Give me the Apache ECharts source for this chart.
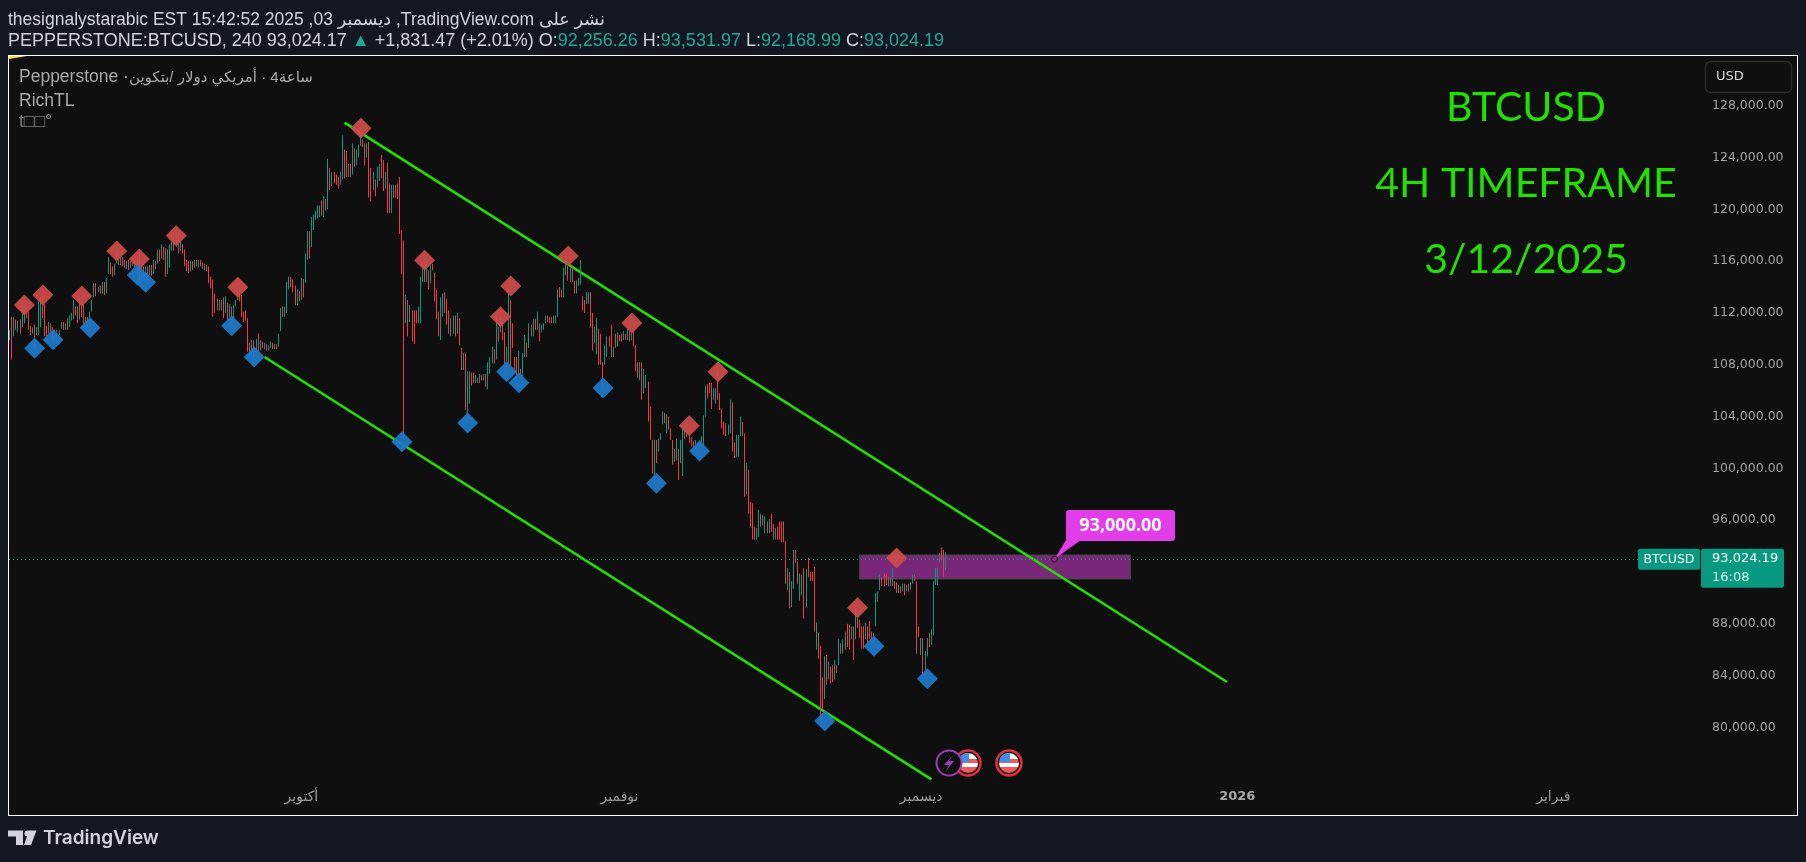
<!DOCTYPE html>
<html>
<head>
<meta charset="utf-8">
<script src="https://cdn.jsdelivr.net/npm/echarts@6/dist/echarts.min.js"></script>
<style>
    html, body { margin: 0; padding: 0; background: #131722; }
    #pane { position: absolute; left: 8px; top: 55px; width: 1788px; height: 759px; background: #0f0f0f; border: 1px solid #fff; }
    #chart { position: absolute; left: 0; top: 0; width: 1806px; height: 862px; }
</style>
</head>
<body>
<div id="pane"></div>
<div id="chart"></div>
<script>
// [open, close, low, high] in thousands of USD, one row per 4h bar
const candles = [
[110.2,110.6,109.9,110.7],[110.6,109.0,108.4,111.7],[110.4,111.3,110.2,111.7],[111.3,110.9,110.7,111.5],[110.9,111.3,110.5,111.4],
[111.3,110.9,110.4,111.5],[110.9,112.0,110.9,112.5],[112.0,112.3,111.2,112.5],[112.3,112.0,111.6,112.4],[112.0,110.9,110.7,112.1],
[110.9,110.5,110.3,111.0],[110.5,110.8,110.4,110.9],[110.8,109.7,109.3,111.1],[110.4,110.8,110.3,110.9],[110.8,112.4,110.3,112.9],
[112.4,113.0,110.9,113.3],[113.0,112.0,111.6,113.1],[112.7,110.8,110.2,112.7],[110.8,110.4,110.2,111.0],[110.4,111.1,110.4,111.3],
[111.1,110.7,110.2,111.2],[110.7,110.2,109.9,110.9],[110.2,110.6,110.0,110.7],[110.6,110.2,110.1,110.7],[110.3,110.7,110.3,110.7],
[110.8,111.2,110.8,111.3],[111.2,110.9,110.7,111.3],[110.9,111.1,110.7,111.2],[111.1,110.9,110.7,111.6],[110.9,111.5,110.9,111.8],
[111.5,111.9,111.4,112.0],[111.9,112.8,111.5,113.0],[112.5,112.0,111.8,112.5],[112.2,111.5,111.2,112.5],[111.5,112.9,111.5,113.3],
[112.9,112.2,111.7,113.0],[112.7,110.9,110.7,112.7],[111.0,111.5,110.9,111.7],[111.5,111.1,110.9,111.7],[111.1,111.8,111.1,112.1],
[112.1,112.9,112.1,113.0],[113.2,114.2,113.2,114.3],[114.2,113.5,113.3,114.3],[113.7,114.0,113.6,114.0],[114.0,113.6,113.5,114.1],
[113.6,114.3,113.5,114.4],[114.3,113.7,113.4,114.4],[113.7,114.6,113.5,114.7],[115.1,116.0,115.0,116.3],[115.9,115.3,115.0,115.9],
[115.3,115.0,114.8,115.6],[115.0,115.6,114.9,115.8],[115.8,116.5,115.8,116.7],[116.4,115.9,115.7,116.5],[115.9,116.2,115.7,116.3],
[116.2,115.9,115.6,116.3],[115.9,115.7,115.5,116.1],[115.7,116.0,115.4,116.0],[116.0,115.6,115.3,116.1],[115.6,115.9,115.5,116.0],
[115.9,115.7,115.6,116.1],[115.7,116.0,115.5,116.1],[116.0,115.4,114.9,116.2],[115.6,115.0,114.6,116.9],[115.0,115.5,114.6,115.7],
[115.5,114.9,114.6,115.6],[114.9,115.4,114.6,115.6],[115.4,115.0,114.8,115.6],[115.0,115.6,114.9,115.7],[115.6,115.1,114.9,115.7],
[115.1,115.9,115.0,116.1],[115.9,115.6,115.4,116.0],[115.9,116.7,115.8,116.9],[116.7,116.3,116.0,116.9],[116.3,117.0,116.2,117.3],
[117.0,116.6,116.1,117.1],[116.6,115.2,114.8,117.0],[115.2,116.0,115.0,116.9],[116.0,116.9,115.5,117.3],[116.9,118.0,116.8,118.0],
[117.9,117.2,116.8,118.0],[117.2,117.9,117.1,118.2],[117.9,117.1,116.6,118.0],[117.1,117.4,116.8,117.7],[117.3,116.9,116.6,117.3],
[116.8,116.0,115.6,116.9],[116.0,115.5,115.2,116.1],[115.5,115.2,115.1,116.0],[115.3,115.9,115.2,116.0],[115.9,115.6,115.3,116.0],
[115.6,116.0,115.5,116.1],[116.0,115.7,115.6,116.1],[115.7,115.9,115.5,116.1],[115.9,115.7,115.6,116.1],[115.7,115.5,115.4,115.9],
[115.5,115.6,115.3,115.8],[115.6,115.3,115.2,115.7],[115.6,114.7,114.3,115.6],[114.7,114.4,113.9,114.8],[114.4,112.2,111.7,114.6],
[113.1,112.4,112.0,113.5],[112.4,113.0,112.2,113.1],[113.0,112.5,112.2,113.0],[112.5,112.9,112.2,113.0],[112.9,112.1,111.6,113.2],
[112.1,112.7,112.0,113.3],[112.7,112.0,111.4,112.8],[112.0,112.6,111.7,112.7],[112.4,111.0,110.9,112.5],[111.4,112.5,111.3,112.6],
[112.5,113.0,112.5,113.0],[113.0,113.9,113.0,114.0],[113.7,113.2,112.9,113.8],[113.3,111.9,111.7,113.4],[112.0,111.6,111.3,112.1],
[112.1,111.5,111.4,112.2],[111.5,110.0,109.0,111.6],[109.5,108.9,108.7,109.7],[108.9,109.2,108.7,109.9],[109.2,108.8,108.6,109.9],
[108.8,109.7,108.7,110.0],[109.7,109.2,109.0,110.4],[109.2,109.6,109.1,109.9],[109.6,109.3,109.3,109.8],[109.3,109.6,109.2,109.7],
[109.5,109.2,109.1,109.6],[109.2,109.4,109.1,109.5],[109.4,109.6,109.3,109.8],[109.6,109.4,109.2,109.7],[109.4,109.5,109.2,109.6],
[109.5,109.3,109.2,109.6],[109.5,110.2,109.4,110.4],[110.6,112.0,110.6,112.4],[112.0,111.9,111.7,112.5],[111.9,112.3,111.7,112.5],
[112.0,113.9,112.0,114.4],[113.9,114.6,113.8,114.8],[114.6,114.2,114.0,114.8],[114.2,113.9,113.6,114.6],[114.1,112.8,112.6,114.1],
[112.8,113.3,112.6,113.8],[113.3,112.9,112.9,113.7],[113.2,114.6,113.0,114.7],[114.4,113.4,113.2,114.6],[114.3,115.9,114.3,116.6],
[116.2,117.2,116.1,118.3],[117.0,116.6,116.2,118.3],[117.1,118.6,117.1,119.4],[118.6,119.2,118.4,119.6],[119.2,119.3,119.2,119.9],
[119.3,119.6,119.3,120.3],[119.6,120.1,119.4,120.3],[120.0,119.7,119.5,120.7],[119.7,120.2,119.4,121.0],[120.2,120.0,119.9,120.8],
[120.0,123.6,120.0,123.9],[123.2,121.9,121.5,123.2],[122.0,122.6,121.8,122.9],[122.6,122.3,122.0,122.9],[122.4,122.0,121.9,122.7],
[122.4,121.8,121.6,122.5],[122.0,122.4,121.9,122.9],[122.5,125.2,122.3,125.7],[124.3,123.0,122.4,124.6],[123.0,122.7,122.5,124.5],
[122.7,123.2,122.5,123.5],[123.2,122.8,122.5,123.5],[122.8,124.6,122.7,125.1],[124.6,123.8,123.3,124.7],[123.8,124.3,123.4,124.6],
[124.2,124.8,124.0,125.0],[125.0,125.5,124.9,126.2],[125.3,124.9,124.8,125.4],[125.0,124.2,123.4,125.1],[124.2,124.8,124.0,125.1],
[124.9,122.0,120.9,125.2],[122.0,121.5,120.6,123.2],[121.5,122.6,121.5,122.9],[122.2,121.6,121.0,122.3],[121.8,122.9,121.7,123.3],
[122.9,123.3,122.2,123.5],[123.7,122.7,122.4,124.2],[123.4,121.8,121.4,123.8],[121.8,122.4,121.6,122.9],[122.6,121.6,119.7,123.6],
[121.6,120.8,119.7,122.0],[120.2,121.3,119.7,121.9],[121.4,121.8,120.9,121.9],[121.8,121.2,120.9,121.9],[121.2,120.9,120.8,122.0],
[122.0,118.2,118.1,122.5],[118.2,115.4,115.0,118.4],[115.4,111.5,102.2,117.6],[111.5,113.1,111.2,113.4],[112.9,111.2,110.2,113.0],
[111.4,112.2,111.3,112.6],[112.0,110.2,109.8,112.2],[112.2,110.0,109.6,112.2],[112.2,111.5,111.2,112.2],[111.4,112.3,111.2,112.5],
[112.2,114.0,111.2,114.8],[114.4,115.6,114.4,116.0],[115.6,114.8,114.4,116.0],[114.8,115.3,114.4,115.8],[115.3,114.6,113.8,115.3],
[114.6,115.6,114.3,115.8],[115.6,115.3,115.3,115.8],[115.0,113.0,112.9,115.1],[113.7,112.2,111.5,113.8],[112.1,111.4,110.2,112.1],
[111.4,112.6,109.9,113.2],[112.4,112.9,111.7,113.5],[113.4,112.3,112.0,113.6],[113.0,112.0,111.1,113.1],[112.2,111.0,110.4,112.2],
[110.9,111.2,110.2,111.6],[111.2,111.6,110.4,111.8],[111.6,111.0,110.2,111.8],[110.9,111.7,110.4,112.0],[111.6,110.0,109.5,111.6],
[109.3,108.0,107.6,109.3],[108.0,108.6,107.6,108.9],[108.6,105.0,104.5,108.9],[104.7,106.5,103.5,107.5],[106.5,107.0,105.0,107.5],
[107.0,106.9,106.4,107.4],[107.2,106.8,106.6,107.4],[106.8,107.0,106.6,107.2],[107.0,106.8,106.6,107.0],[106.8,107.1,106.6,107.3],
[107.1,106.9,106.8,107.2],[106.9,107.1,106.8,107.3],[107.1,106.5,106.3,107.3],[106.3,107.5,106.1,108.2],[107.5,108.4,107.3,108.6],
[108.2,109.0,108.1,109.4],[109.0,108.4,108.1,109.2],[108.6,110.9,108.4,111.7],[110.9,110.4,109.8,110.9],[110.7,111.2,110.5,111.7],
[111.2,110.2,109.9,111.2],[110.4,108.0,107.5,110.5],[108.0,108.8,107.5,109.4],[108.0,113.0,107.7,114.0],[113.0,108.5,107.9,113.0],
[110.9,109.5,109.3,111.2],[108.5,108.0,107.6,108.6],[108.5,107.4,106.7,108.6],[107.4,108.7,107.1,109.1],[107.7,107.4,107.1,107.7],
[107.4,108.6,107.1,108.9],[108.6,110.0,108.6,110.3],[109.6,109.2,108.6,109.7],[109.4,110.9,109.3,111.2],[110.9,110.6,110.2,111.1],
[110.5,111.1,110.2,111.5],[111.4,111.1,110.7,111.5],[111.0,112.0,110.7,112.1],[111.0,110.4,109.8,111.2],[110.5,110.9,110.5,111.1],
[110.9,111.2,110.7,111.2],[111.2,111.6,111.2,111.8],[111.6,111.5,111.3,111.8],[111.6,111.2,111.2,111.7],[111.2,111.5,111.2,111.7],
[111.7,111.3,111.2,111.8],[111.3,111.6,111.2,111.8],[111.7,113.4,111.7,113.8],[113.8,113.3,113.2,114.0],[113.6,113.3,113.2,113.8],
[113.3,115.0,113.2,115.5],[115.0,115.9,114.9,116.3],[115.5,115.0,114.5,115.6],[115.0,115.2,114.4,115.5],[115.3,114.6,114.4,115.6],
[114.4,113.7,113.5,114.5],[113.7,114.3,113.5,114.5],[114.1,114.5,114.1,114.7],[114.5,115.2,114.2,116.1],[113.2,112.5,112.2,113.3],
[112.5,112.0,112.0,113.0],[112.8,113.5,112.7,113.6],[112.8,113.4,112.7,113.6],[113.5,111.2,110.9,113.6],[111.8,110.0,109.1,112.0],
[110.0,110.9,109.7,110.9],[109.3,111.2,108.8,111.6],[110.7,108.4,108.0,110.8],[109.0,108.0,108.0,110.4],[108.2,106.6,106.3,108.2],
[108.0,109.2,108.0,109.5],[108.9,109.8,108.6,110.2],[110.0,109.5,109.4,110.2],[110.4,109.0,108.6,111.1],[109.0,109.2,108.6,109.4],
[110.2,109.5,109.3,110.4],[109.5,110.3,109.4,110.5],[110.2,109.9,109.8,110.3],[110.3,109.9,109.8,110.4],[109.9,110.4,109.9,110.6],
[110.4,110.1,109.9,110.4],[110.0,110.8,109.9,110.9],[110.7,110.2,109.8,110.7],[110.2,110.5,109.9,110.6],[110.6,109.6,109.4,110.7],
[109.4,107.6,107.5,109.5],[108.2,107.2,107.0,108.2],[107.2,107.9,106.8,108.2],[108.0,105.5,105.3,108.2],[106.0,107.2,105.8,107.7],
[106.5,107.0,106.2,107.2],[106.6,104.0,103.6,106.7],[104.2,103.0,102.2,104.8],[102.2,99.8,99.6,102.2],[99.8,101.4,98.9,102.2],
[101.9,100.4,100.4,102.2],[101.5,102.2,101.3,102.3],[102.2,102.6,102.2,102.7],[103.5,104.2,103.4,104.4],[104.2,103.9,103.5,104.3],
[103.4,104.1,102.7,104.2],[103.8,103.2,103.0,104.0],[103.0,102.6,102.2,103.1],[102.1,100.4,100.3,102.2],[100.6,101.3,100.5,101.5],
[101.0,102.2,100.6,102.3],[101.5,99.5,99.1,101.5],[100.5,102.0,100.4,102.2],[101.0,103.0,99.4,103.1],[103.0,102.5,102.3,103.1],
[102.5,103.2,102.4,103.7],[102.6,102.2,102.0,102.6],[102.2,101.9,101.7,102.4],[102.0,101.5,101.4,102.1],[101.5,102.0,101.4,102.2],
[101.9,101.6,101.4,102.0],[101.6,102.0,101.5,102.2],[102.0,102.4,101.7,102.5],[102.0,103.9,101.7,104.1],[104.0,106.0,104.0,106.4],
[106.3,105.6,105.4,106.5],[106.4,105.9,105.8,106.6],[106.5,105.2,104.6,106.6],[105.5,105.9,105.3,106.2],[105.7,106.0,105.0,106.2],
[106.0,105.4,105.3,107.5],[105.6,104.9,104.5,105.8],[104.6,103.4,103.1,104.6],[103.6,103.1,102.6,103.6],[103.3,102.6,102.5,103.5],
[102.7,103.2,102.6,103.4],[103.0,105.2,102.7,105.3],[105.1,102.0,101.3,105.1],[102.0,101.2,100.8,102.0],[101.2,102.3,100.9,102.6],
[101.5,102.2,100.9,102.6],[102.5,103.6,102.5,104.0],[103.6,102.9,102.5,103.6],[102.5,100.5,97.8,102.7],[98.0,99.5,98.0,100.4],
[99.5,97.8,96.5,99.9],[97.4,96.0,95.5,97.4],[97.3,94.6,94.5,97.3],[95.5,94.9,94.5,95.5],[94.5,95.0,94.5,95.4],
[95.0,96.4,94.7,96.8],[96.4,95.6,95.5,96.5],[95.6,96.2,95.6,96.4],[95.3,95.9,95.0,96.3],[95.9,95.2,95.0,95.9],
[95.2,96.0,95.0,96.1],[96.2,95.5,95.1,96.5],[95.5,95.0,94.5,95.7],[94.7,95.2,94.5,95.4],[95.2,94.8,94.5,95.5],
[95.6,94.9,94.5,95.9],[95.9,94.6,94.3,95.9],[95.8,94.6,94.3,95.9],[94.4,91.4,91.1,94.4],[91.0,92.0,90.6,92.3],
[92.0,89.6,89.2,92.0],[90.0,91.0,89.3,91.3],[90.9,93.2,90.7,93.7],[93.6,92.9,92.7,93.7],[92.8,91.5,91.1,92.8],
[90.0,91.7,89.8,91.9],[90.5,91.5,90.2,91.8],[92.0,89.4,88.4,92.3],[90.0,92.0,89.3,92.2],[93.0,92.5,91.6,93.1],
[92.0,91.5,91.3,92.0],[92.0,91.6,91.3,92.0],[92.4,88.0,87.4,92.4],[87.8,88.0,86.0,88.1],[87.3,86.0,85.3,87.3],
[86.2,82.0,80.4,86.3],[83.9,81.5,81.4,83.9],[82.3,84.9,82.2,85.5],[85.5,84.0,83.3,85.6],[83.8,84.5,83.7,85.1],
[84.7,83.5,83.4,84.7],[84.8,83.7,83.5,84.8],[83.9,84.7,83.7,85.2],[84.7,84.2,84.2,84.8],[84.8,86.2,84.8,86.8],
[86.2,85.8,85.7,86.5],[85.8,86.6,85.7,86.8],[86.4,87.0,86.0,87.4],[88.0,86.5,86.2,88.0],[87.6,86.8,86.0,87.9],
[87.0,87.5,86.8,87.8],[87.5,85.7,85.2,87.8],[86.9,88.5,86.8,89.2],[88.5,87.9,87.7,88.7],[88.2,87.3,86.9,88.3],
[87.8,86.2,86.1,87.8],[87.3,86.5,86.1,87.8],[87.0,87.9,86.8,88.1],[87.5,86.8,86.5,87.8],[88.0,87.0,86.8,88.2],
[87.3,86.5,86.4,87.4],[86.5,87.1,86.4,87.3],[87.9,89.9,87.8,90.4],[89.9,90.2,89.7,90.5],[90.8,91.6,90.6,91.8],
[91.4,91.0,90.9,91.6],[91.8,91.1,90.9,91.9],[91.5,91.3,91.0,91.8],[91.0,91.3,90.9,91.6],[91.4,91.0,90.9,91.6],
[91.0,91.4,90.9,92.3],[91.2,90.9,90.7,91.3],[91.1,90.6,90.4,91.2],[90.5,90.9,90.4,91.0],[90.8,90.5,90.4,90.9],
[90.5,90.9,90.5,91.1],[90.9,90.6,90.2,91.1],[90.6,90.9,90.5,91.0],[91.0,90.6,90.5,91.1],[90.6,91.2,90.6,91.2],
[91.2,91.5,91.1,91.8],[91.8,91.4,91.3,91.8],[91.3,87.7,85.7,91.3],[87.7,87.0,87.0,87.8],[85.8,86.6,85.6,86.9],
[86.8,84.9,83.8,86.9],[84.4,85.5,83.8,85.9],[85.6,86.3,85.5,86.9],[87.1,86.5,86.2,87.3],[86.5,87.3,86.4,87.6],
[87.3,90.5,87.1,91.3],[91.0,91.3,91.0,92.3],[91.3,92.0,91.0,92.3],[92.7,93.4,92.7,93.5],[93.9,93.3,92.9,93.9],
[93.6,92.0,91.6,93.7],[92.25626,93.02419,92.16899,93.53197]
]

// swing markers as [bar index, price]
const swingHighs = [[7,112616],[16,113388],[35,113311],[52,116784],[63,116167],[81,117968],[111,113980],[171,126253],[202,116064],[239,111716],[244,114083],[272,116398],[303,111227],[331,103302],[345,107470],[413,89249],[432,93083]]
const swingLows = [[12,109271],[21,109940],[39,110866],[62,114932],[66,114366],[108,111021],[119,108602],[191,102067],[223,103508],[242,107470],[248,106621],[289,106209],[315,98850],[336,101346],[397,80501],[421,86265],[447,83769]]

// channel lines and the resistance zone, [bar index, price]
const channelUpper = [[163,126688],[593,83510]]
const channelLower = [[124,108600],[449,76000]]
const zoneStart = [414,93314]
const zoneEnd = [546,91461]
const lastPrice = 93024.19
const calloutPoint = [509,93000]

const barCount = 824
const categories = Array.from({ length: barCount }, (_, i) => String(i))
// time axis labels by bar index
const monthTicks = { 142: 'أكتوبر', 297: 'نوفمبر', 444: 'ديسمبر', 598: '{b|2026}', 752: 'فبراير' }

const GREEN = '#22e000'
const UP = '#089981'
const DOWN = '#f23645'
const UI_FONT = '"Liberation Sans","DejaVu Sans",sans-serif'
const AXIS_FONT = '"DejaVu Sans",sans-serif'

const chart = echarts.init(document.getElementById('chart'))

function txt(x, y, text, fontSize, fill, extra) {
    return {
        type: 'text', x, y, z: 100, silent: true,
        style: Object.assign({ text, fill, font: fontSize + 'px ' + UI_FONT, textVerticalAlign: 'middle' }, extra || {}),
    }
}

/** 美国事件图标 */
function flagIcon(x, y) {
    return {
        type: 'group', x, y, z: 100, silent: true,
        children: [
            { type: 'circle', shape: { r: 12.5 }, style: { fill: '#111', stroke: '#e23040', lineWidth: 2.5 } },
            {
                type: 'circle', shape: { r: 10 },
                style: {
                    fill: new echarts.graphic.LinearGradient(0, 0, 0, 1, [
                        { offset: 0, color: '#fff' }, { offset: 0.3, color: '#fff' },
                        { offset: 0.3, color: '#f05a5a' }, { offset: 0.52, color: '#f05a5a' },
                        { offset: 0.52, color: '#fff' }, { offset: 0.72, color: '#fff' },
                        { offset: 0.72, color: '#f05a5a' }, { offset: 1, color: '#f05a5a' },
                    ]),
                },
            },
            { type: 'polygon', shape: { points: [[-10, -1], [-9, -5], [-7, -7.5], [-3.5, -9.5], [1, -10], [1, -1]] }, style: { fill: '#3f8fe8' } },
        ],
    }
}

const option = {
    animation: false,
    backgroundColor: 'transparent',
    grid: { left: 9, top: 53.9, width: 1691, height: 725.4, containLabel: false },
    xAxis: {
        type: 'category',
        data: categories,
        boundaryGap: true,
        axisLine: { show: false },
        axisTick: { show: false },
        splitLine: { show: false },
        axisLabel: {
            interval: (i) => monthTicks[i] !== undefined,
            formatter: (v, i) => monthTicks[i] || '',
            color: '#9c9c9c',
            fontSize: 14,
            fontFamily: AXIS_FONT,
            margin: 11,
            hideOverlap: false,
            rich: { b: { fontWeight: 'bold', color: '#a8a8a8', fontSize: 13, fontFamily: AXIS_FONT } },
        },
    },
    yAxis: {
        type: 'value',
        position: 'right',
        min: 76000,
        max: 132000,
        interval: 4000,
        scale: true,
        axisLine: { show: false },
        axisTick: { show: false },
        splitLine: { show: false },
        axisLabel: {
            showMinLabel: false,
            showMaxLabel: false,
            margin: 12,
            color: '#a2a2a2',
            fontSize: 12.5,
            fontFamily: AXIS_FONT,
            formatter: (v) => v.toLocaleString('en-US', { minimumFractionDigits: 2 }),
        },
    },
    series: [
        {
            name: 'channel upper', type: 'line', data: channelUpper, z: 1, symbol: 'none', silent: true,
            lineStyle: { color: GREEN, width: 2.6 },
        },
        {
            name: 'channel lower', type: 'line', data: channelLower, z: 1, symbol: 'none', silent: true,
            lineStyle: { color: GREEN, width: 2.6 },
        },
        {
            name: 'zone', type: 'line', data: [], z: 2, silent: true,
            markArea: {
                silent: true,
                itemStyle: { color: 'rgba(140,45,140,0.85)', borderColor: '#3c4a3c', borderWidth: 1 },
                data: [[{ coord: zoneStart }, { coord: zoneEnd }]],
            },
        },
        {
            name: 'BTCUSD', type: 'candlestick', z: 3, silent: true,
            data: candles.map((row) => row.map((v) => v * 1000)),
            barWidth: 1,
            itemStyle: { color: UP, color0: DOWN, borderColor: UP, borderColor0: DOWN, borderWidth: 1 },
            markLine: {
                silent: true,
                symbol: 'none',
                label: { show: false },
                lineStyle: { color: UP, type: [1, 3], width: 1 },
                data: [{ yAxis: lastPrice }],
            },
        },
        {
            name: 'swing highs', type: 'scatter', data: swingHighs, z: 5, symbol: 'diamond', symbolSize: 21, silent: true,
            itemStyle: { color: '#d04a4a', opacity: 0.93 },
        },
        {
            name: 'swing lows', type: 'scatter', data: swingLows, z: 5, symbol: 'diamond', symbolSize: 21, silent: true,
            itemStyle: { color: '#1f78c8', opacity: 0.95 },
        },
    ],
}
chart.setOption(option)

// 价格提示框跟随坐标
const tip = chart.convertToPixel({ gridIndex: 0 }, calloutPoint)
const lastY = chart.convertToPixel({ yAxisIndex: 0 }, lastPrice)

chart.setOption({
    graphic: {
        elements: [
            txt(8, 20, 'thesignalystarabic EST 15:42:52 2025 ,03 ديسمبر ,TradingView.com نشر على', 17.5, '#d1d4dc'),
            {
                type: 'text', x: 8, y: 41, z: 100, silent: true,
                style: {
                    text: 'PEPPERSTONE:BTCUSD, 240 93,024.17 {t|▲} +1,831.47 (+2.01%) O:{t|92,256.26} H:{t|93,531.97} L:{t|92,168.99} C:{t|93,024.19}',
                    fill: '#d1d4dc', font: '18px ' + UI_FONT, textVerticalAlign: 'middle',
                    rich: { t: { fill: '#22ab94', font: '18px ' + UI_FONT } },
                },
            },
            { type: 'polygon', z: 100, silent: true, shape: { points: [[9, 56], [27, 56], [9, 59]] }, style: { fill: '#f5e53a' } },
            txt(19, 77.5, 'Pepperstone · ', 17.5, '#a9a9a9'),
            txt(129, 77.5, 'ساعة4 · أمريكي دولار /بتكوين', 15, '#a9a9a9'),
            txt(19, 101, 'RichTL', 17.5, '#a9a9a9'),
            txt(19, 122, 't□□°', 17.5, '#7c7c7c'),

            txt(1526, 108, 'BTCUSD', 41, GREEN, { font: '41px Lato', textAlign: 'center' }),
            txt(1526, 184, '4H TIMEFRAME', 41, GREEN, { font: '41px Lato', textAlign: 'center' }),
            txt(1526, 260, '3/12/2025', 41, GREEN, { font: '41px Lato', textAlign: 'center' }),

            { type: 'rect', z: 100, silent: true, shape: { x: 1705.5, y: 61.5, width: 86, height: 31, r: 5 }, style: { fill: '#0f0f0f', stroke: '#2c2c2c', lineWidth: 1.5 } },
            txt(1716, 77, 'USD', 13, '#d8d8d8', { font: '13px ' + AXIS_FONT }),

            // callout
            { type: 'polygon', z: 100, silent: true, shape: { points: [[tip[0], tip[1]], [1066, 540], [1081, 540]] }, style: { fill: '#e23de8' } },
            { type: 'rect', z: 100, silent: true, shape: { x: 1066, y: 510, width: 109, height: 31, r: 3 }, style: { fill: '#e23de8' } },
            txt(1120.5, 525.5, '93,000.00', 18, '#fff', { font: 'bold 18px "Open Sans"', textAlign: 'center' }),
            { type: 'circle', z: 101, silent: true, shape: { cx: tip[0], cy: tip[1], r: 3 }, style: { fill: '#8c2d8c', stroke: '#1a1a1a', lineWidth: 1 } },

            // last price tags
            { type: 'rect', z: 100, silent: true, shape: { x: 1638, y: lastY - 10, width: 62, height: 21, r: 2 }, style: { fill: UP } },
            txt(1669, lastY + 0.5, 'BTCUSD', 12.5, '#fff', { font: '12.5px ' + AXIS_FONT, textAlign: 'center' }),
            { type: 'rect', z: 100, silent: true, shape: { x: 1701, y: lastY - 10, width: 83, height: 39, r: 2 }, style: { fill: UP } },
            txt(1712, lastY, '93,024.19', 13, '#fff', { font: '13px ' + AXIS_FONT }),
            txt(1712, lastY + 18.5, '16:08', 13, '#d6efe9', { font: '13px ' + AXIS_FONT }),

            // event icons
            { type: 'circle', z: 99, silent: true, shape: { cx: 949, cy: 763, r: 12.5 }, style: { fill: '#0f0f0f', stroke: '#9a3fb0', lineWidth: 2 } },
            { type: 'polygon', z: 99, silent: true, shape: { points: [[953, 755], [944, 765], [949, 765], [945, 772], [954, 761], [949, 761]] }, style: { fill: '#9a3fb0' } },
            flagIcon(968, 763),
            flagIcon(1009, 763),

            // logo
            { type: 'polygon', z: 100, silent: true, shape: { points: [[8, 830.5], [23, 830.5], [23, 845], [16, 845], [16, 836.5], [8, 836.5]] }, style: { fill: '#d1d4dc' } },
            { type: 'circle', z: 100, silent: true, shape: { cx: 27.5, cy: 833.5, r: 3 }, style: { fill: '#d1d4dc' } },
            { type: 'polygon', z: 100, silent: true, shape: { points: [[29, 830.5], [36.5, 830.5], [31, 845], [24, 845]] }, style: { fill: '#d1d4dc' } },
            txt(43, 838, 'TradingView', 19, '#d1d4dc', { font: '600 19px Inter' }),
        ],
    },
})
</script>
</body>
</html>
